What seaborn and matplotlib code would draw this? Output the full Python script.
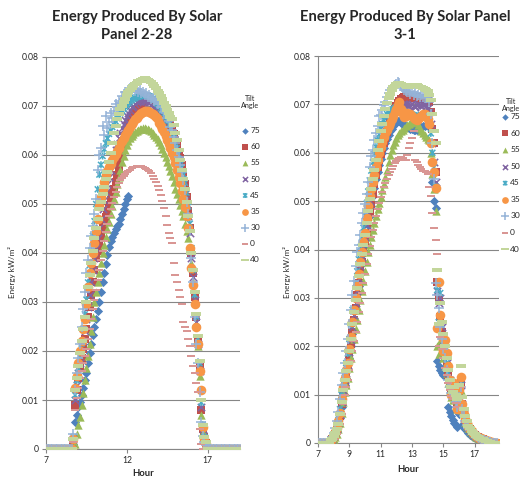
import numpy as np
import pandas as pd
import matplotlib
matplotlib.use("Agg")
import matplotlib.pyplot as plt
from matplotlib.path import Path
import seaborn as sns

# --- data (energy in 1e-3 kW/m^2, sampled every 0.1 h) ---
tilts = ['75', '60', '55', '50', '45', '35', '30', '0', '40']

# panel 2-28: samples 8.6 .. 17.0 h, zeros before and after
left_day_hours = np.round(np.arange(8.6, 17.05, 0.1), 1)
left_night_hours = np.round(np.r_[np.arange(7.0, 8.55, 0.1), np.arange(17.1, 19.05, 0.1)], 1)

left_75 = [0, 1, 5.5, 7, 8.5, 9.5, 11, 12.5, 14, 15.5,
           17.5, 19.5, 21.5, 23.2, 25, 26.5, 28.2, 30, 32, 34,
           36, 37.8, 39.5, 41.2, 42.5, 43.3, 44, 44.8, 45.5, 46,
           47, 48, 49, 50, 51, 51.6]
left_60 = [0, 1.5, 9, 12, 14.5, 16.5, 18.5, 20.5, 22.5, 24.5,
           27, 29, 31.5, 34, 36.5, 39, 40.5, 42, 43.5, 45,
           46.2, 47.4, 48.6, 49.8, 51, 52, 53, 54.5, 56, 57.5,
           59, 60.5, 62, 63.5, 65, 66, 66.8, 67.5, 68.2, 68.8,
           69.3, 69.8, 70.2, 70.6, 70.9, 71.1, 71.3, 71.4, 71.4, 71.3,
           71.2, 71, 70.8, 70.5, 70.2, 69.8, 69.4, 69, 68.5, 67.9,
           67.2, 66.4, 65.5, 64.3, 63, 61.8, 60.6, 59.3, 58, 56.5,
           54, 51.5, 48.5, 45, 40, 36, 31, 27, 22, 17,
           8, 4, 2.5, 1.2, 0]
left_55 = [0, 0, 1, 3, 5, 6.5, 9, 11.5, 14, 16.5,
           19, 21.5, 24, 27, 30, 32, 34, 36, 38, 40,
           41.6, 43.2, 44.8, 46.4, 48, 49.5, 51, 52.5, 54, 55.5,
           57, 58.5, 59.8, 61, 62, 62.8, 63.4, 63.9, 64.3, 64.6,
           64.9, 65.1, 65.3, 65.4, 65.5, 65.5, 65.4, 65.3, 65.1, 64.8,
           64.5, 64.1, 63.7, 63.2, 62.6, 62, 61.3, 60.5, 59.5, 58.5,
           57.8, 56.8, 55.8, 54.5, 53, 52, 51, 49.8, 48.6, 47.5,
           46, 44.5, 43, 41, 38, 34, 30, 25.5, 21, 15,
           7, 3.5, 2, 1, 0]
left_50 = [0, 2, 10, 13, 15.5, 17.5, 19.5, 22, 24, 26.5,
           29, 31.5, 34, 36.5, 39, 41, 43, 45, 47, 49,
           50.8, 52.5, 54, 55.5, 57, 58.4, 59.8, 61, 62.2, 63.4,
           64.5, 65.5, 66.4, 67.2, 68, 68.6, 69.2, 69.7, 70.1, 70.5,
           70.8, 71, 71.1, 71.2, 71.2, 71.1, 71, 70.8, 70.6, 70.3,
           70, 69.6, 69.2, 68.7, 68.2, 67.6, 67, 66.3, 65.6, 64.8,
           64, 63.1, 62.2, 61.2, 60.2, 59.1, 57.9, 56.6, 55.2, 53.7,
           52, 50, 47.5, 44, 39, 35, 30.5, 26, 21.5, 16,
           8.5, 4, 2.2, 1, 0]
left_45 = [0, 2.5, 11, 14, 16.5, 19, 21.5, 24.5, 27.5, 30.5,
           34, 37.5, 40.5, 43.5, 46.5, 50, 53, 56, 58, 59.8,
           61.2, 62.4, 63.4, 64.3, 65, 65.7, 66.3, 66.9, 67.5, 68,
           68.5, 69, 69.4, 69.8, 70.2, 70.6, 70.9, 71.2, 71.4, 71.6,
           71.8, 71.9, 72, 72.1, 72.2, 72.2, 72.2, 72.1, 72, 71.8,
           71.5, 71.2, 70.8, 70.4, 70, 69.5, 69, 68.4, 67.7, 67,
           66.2, 65.3, 64.4, 63.5, 62.5, 61.4, 60.2, 58.9, 57.5, 56,
           54.3, 52.3, 49.5, 46, 41, 36.5, 31.5, 27, 22.5, 17.5,
           9.5, 5, 2.5, 1.2, 0]
left_35 = [0, 2, 12.5, 15, 17.5, 20, 22, 24.5, 26.5, 29.5,
           33, 36, 38, 40, 42, 44.5, 47, 49.5, 51.5, 53,
           54.5, 56, 56.8, 57.5, 58.2, 59, 59.6, 60.2, 60.8, 61.5,
           62.2, 62.8, 63.4, 64, 64.6, 65.2, 65.8, 66.3, 66.8, 67.3,
           67.6, 68, 68.3, 68.6, 68.8, 69, 69, 68.9, 68.8, 68.6,
           68.4, 68.1, 67.8, 67.3, 66.6, 66, 65.3, 64.6, 63.9, 63.1,
           62.3, 61.4, 60.5, 59.5, 58.3, 57, 55.6, 54.2, 52.7, 51,
           49.4, 47.5, 45, 41, 37, 33.5, 29.5, 25, 21.5, 16,
           12, 4.5, 2, 1, 0]
left_30 = [0, 3, 12, 15.5, 18.5, 21.5, 25, 28.5, 32, 36,
           38.5, 41, 43.5, 45.5, 48, 51, 57, 60, 61.5, 66,
           64, 68, 65.5, 66.8, 68.5, 67.5, 69, 70.5, 69.8, 71,
           70.6, 72, 71.4, 72.8, 72.4, 73.3, 73.7, 73.2, 73.6, 73.1,
           73.4, 72.8, 73.2, 72.6, 72.9, 72.3, 72.6, 71.9, 72.2, 71.5,
           71.6, 71, 71.2, 70.4, 70.6, 69.7, 69.8, 68.8, 68.6, 67.5,
           67, 65.8, 65, 63.6, 62.4, 61, 59.6, 58, 56.5, 54.8,
           52.8, 50.5, 48, 44.5, 39, 34, 27, 21.5, 17.5, 11.6,
           5.5, 2.6, 1.5, 0.8, 0]
left_0 = [0, 1.5, 8, 10.5, 12.5, 14.5, 16, 17.5, 19, 20.5,
          22.5, 24.5, 26.5, 28.5, 30.5, 32.5, 34.5, 36.5, 38.5, 40.5,
          42.4, 44.2, 45.9, 47.5, 49, 50.3, 51.5, 52.5, 53.4, 54.2,
          54.8, 55.3, 55.8, 56.2, 56.5, 56.8, 57, 57.3, 57.5, 57.6,
          57.7, 57.7, 57.7, 57.7, 57.6, 57.4, 57.2, 57, 56.7, 56.3,
          55.7, 55.1, 54.5, 53.7, 52.8, 51.8, 50.6, 49.2, 47.6, 45.8,
          44, 43, 42, 38, 35.5, 34, 32.5, 31, 29.5, 26,
          25, 24, 22.5, 21, 19, 17, 15.5, 13.5, 11.7, 4,
          1, 0, 0, 0, 0]
left_40 = [0, 2, 12, 14.5, 17, 19.5, 22, 24.5, 27, 30,
           33, 35.5, 38, 40.5, 43, 45, 47, 49, 50.5, 52,
           53.5, 55, 56.5, 58.5, 60.5, 62.5, 64.5, 66, 67.3, 68.4,
           69.3, 70, 70.8, 71.5, 72.2, 72.8, 73.3, 73.7, 74.1, 74.4,
           74.7, 75, 75.2, 75.4, 75.6, 75.7, 75.6, 75.4, 75.2, 74.9,
           74.5, 74.1, 73.6, 73.1, 72.6, 72, 71.4, 70.7, 70, 69.2,
           68.5, 67.8, 67.3, 66.2, 64.5, 63, 61, 59, 57, 55,
           53, 50.5, 47.5, 44.5, 40, 36.5, 32, 27.5, 23, 18,
           10, 5, 2.5, 1.5, 0]

# panel 3-1: samples 7.8 .. 18.4 h, zeros before
right_day_hours = np.round(np.arange(7.8, 18.45, 0.1), 1)
right_night_hours = np.round(np.arange(7.0, 7.75, 0.1), 1)

right_75 = [0.5, 0.8, 1.2, 1.7, 2.4, 3.6, 5.2, 7.5, 10, 12,
            13.5, 15, 17.5, 20, 22.5, 25, 27.5, 30, 32.5, 35,
            37, 39, 41, 43, 45, 47, 49, 51, 52.8, 54.5,
            56, 57.4, 58.7, 59.9, 61, 62, 62.9, 63.7, 64.4, 65,
            65.5, 66, 66.4, 66.6, 66.5, 66.2, 65.9, 65.7, 65.5, 65.3,
            65.1, 64.9, 65, 64.8, 64.6, 64.8, 65, 65.2, 65.4, 65.5,
            65.6, 65.7, 65.8, 65.5, 65, 54, 50, 48.6, 17, 16,
            15, 14.5, 14, 15.5, 13.5, 7.5, 6.5, 5.5, 4.8, 4.2,
            3.8, 3.4, 6, 7.5, 3.8, 3.2, 2.8, 2.4, 2, 1.7,
            1.5, 1.3, 1.1, 1, 0.9, 0.8, 0.7, 0.6, 0.5, 0.4,
            0.3, 0.2, 0.2, 0.1, 0, 0, 0]
right_60 = [0.6, 0.9, 1.3, 1.9, 2.7, 4, 5.5, 8, 10.5, 12.5,
            14, 15.5, 18, 20.5, 23, 25.5, 28, 30.5, 33, 35.5,
            37.5, 39.5, 41.5, 43.5, 45.5, 47.5, 49.5, 51.5, 53.5, 55.5,
            57, 58.5, 59.8, 61, 62, 63, 64.2, 65.5, 66.6, 67.5,
            68.3, 69, 69.6, 70.2, 70.7, 71.1, 71.4, 71.6, 71.5, 71.7,
            71.6, 71.4, 71.6, 71.5, 71.3, 71.5, 71.4, 71.2, 71.4, 71.3,
            71.2, 71.3, 71, 70.5, 68.5, 65, 62, 56, 33.3, 30,
            26, 23, 20.5, 18, 16, 14, 12.5, 11, 10, 9.5,
            9, 8, 10.5, 12.5, 8, 6, 5, 4, 3.4, 2.8,
            2.3, 2, 1.7, 1.5, 1.3, 1.1, 0.9, 0.8, 0.6, 0.5,
            0.4, 0.3, 0.2, 0.1, 0.1, 0, 0]
right_55 = [0.4, 0.6, 0.9, 1.3, 1.9, 2.9, 4.2, 6.2, 8.5, 10.5,
            12, 13.5, 15.5, 17.5, 19.5, 21.5, 23.5, 25.5, 27.5, 29.5,
            31.5, 33.5, 35.5, 37.5, 39.5, 41, 42.5, 44, 45.5, 47,
            48.3, 49.6, 50.9, 52.2, 53.5, 55, 56.5, 58, 59.5, 60.6,
            61.5, 62.3, 63, 63.6, 64, 64.4, 64.8, 65.2, 65.5, 65.8,
            66, 66.2, 66.4, 66.6, 66.7, 66.4, 65.8, 65.1, 64.5, 64,
            63.6, 63.2, 62.9, 62.6, 60, 55.7, 52.5, 48, 20, 18.5,
            21, 19, 17.5, 16, 14.5, 12.5, 11, 9.5, 8.8, 9.3,
            7.8, 7, 8.5, 11, 6.8, 5.2, 4.3, 3.6, 3, 2.5,
            2.1, 1.8, 1.5, 1.3, 1.1, 1, 0.8, 0.7, 0.5, 0.4,
            0.4, 0.3, 0.2, 0.1, 0.1, 0, 0]
right_50 = [0.6, 0.9, 1.4, 2, 2.9, 4.2, 6, 8.5, 11, 13,
            14.5, 16.2, 18.8, 21.3, 24, 26.5, 29, 31.5, 34, 36.5,
            38.5, 40.5, 42.5, 45, 47.5, 50, 52, 54, 55.8, 57.5,
            59, 60.4, 61.6, 62.7, 63.7, 64.6, 65.5, 66.3, 67, 67.6,
            68.1, 68.6, 69, 69.4, 69.7, 69.9, 70, 70.1, 70, 69.8,
            69.6, 69.8, 70, 69.7, 69.5, 69.8, 70, 69.8, 69.6, 69.9,
            70, 69.7, 69.2, 68.5, 66, 62, 58, 54, 31.5, 29,
            30, 24, 21, 18.5, 16.5, 14.5, 13, 11.5, 10.2, 9.8,
            9, 8.3, 10, 12, 8, 6, 4.8, 4, 3.3, 2.7,
            2.3, 1.9, 1.6, 1.4, 1.2, 1, 0.9, 0.7, 0.6, 0.5,
            0.4, 0.3, 0.2, 0.1, 0.1, 0, 0]
right_45 = [0.7, 1, 1.5, 2.2, 3.2, 4.8, 7, 10, 12.5, 14.5,
            16.5, 18.5, 21.5, 24.5, 27.5, 30, 33, 35.5, 38, 40.5,
            42.5, 44.5, 47, 49.5, 52, 54.3, 56.3, 58, 59.7, 61.2,
            62.6, 63.8, 65, 66, 66.8, 67.5, 68, 68.4, 68.7, 68.9,
            69, 69.2, 69.4, 69.5, 69.3, 69, 68.7, 68.5, 68.3, 68.2,
            68, 67.8, 67.9, 67.6, 67.4, 67.6, 67.8, 67.5, 67.3, 67.6,
            67.8, 67.4, 67, 66.5, 64, 60, 57, 53, 31.6, 25,
            31, 24.5, 21.5, 19, 16.5, 14.5, 12.8, 11.2, 10, 10.8,
            9, 8, 10.5, 13, 8, 6, 4.8, 3.9, 3.2, 2.6,
            2.2, 1.8, 1.6, 1.4, 1.2, 1, 0.8, 0.7, 0.6, 0.5,
            0.4, 0.3, 0.2, 0.1, 0.1, 0, 0]
right_35 = [0.7, 1, 1.5, 2.2, 3, 4.5, 6.2, 9, 11.5, 13.5,
            15, 16.6, 19.5, 22, 25, 27.5, 30, 32.5, 35, 37.5,
            39.5, 41.5, 43.5, 46.5, 49, 51, 52.5, 54, 55.5, 57,
            58.6, 60, 61.2, 62.3, 63.2, 64, 64.8, 65.5, 66.2, 67,
            67.7, 68.4, 69, 69.8, 70.5, 69, 68, 67.3, 67.5, 68.2,
            68, 68, 67.6, 67.2, 67, 66.8, 67, 67.3, 67.6, 68,
            68, 67.6, 67, 66, 62, 58, 56, 52.7, 23.7, 33.3,
            26.5, 22, 19, 21.3, 18.6, 16, 13, 10, 11.6, 12.5,
            9, 7, 11, 13.7, 8, 6, 5, 4.2, 3.5, 2.8,
            2.4, 2, 1.7, 1.5, 1.3, 1.1, 1, 0.8, 0.7, 0.6,
            0.5, 0.4, 0.3, 0.2, 0.1, 0, 0]
right_30 = [0.8, 1.2, 2, 3, 4.5, 6.5, 9, 12, 14.5, 16.5,
            19, 21.5, 24.5, 27.5, 30.5, 33.5, 36.5, 39.5, 41, 43,
            45.5, 47.5, 49.5, 51.5, 54, 57, 59.3, 60.5, 62.6, 64,
            65.5, 67.5, 67.8, 68.8, 69.8, 70.5, 71.5, 72.4, 73, 73.3,
            73.6, 74, 74.3, 74.7, 74.4, 73.8, 73.4, 73, 72.7, 72.5,
            72.6, 72.2, 72.5, 72, 72.3, 71.8, 72, 71.6, 71.9, 71.5,
            71.8, 71.4, 71.6, 70.5, 68, 62, 54.5, 33, 30.5, 28,
            24, 21.5, 19.5, 17.5, 15, 13, 11.5, 10.4, 9, 10,
            8.5, 7.5, 9.5, 11.5, 7, 5.5, 4.5, 3.8, 3.2, 2.6,
            2.2, 1.9, 1.6, 1.4, 1.2, 1, 0.9, 0.7, 0.6, 0.5,
            0.4, 0.3, 0.2, 0.1, 0.1, 0, 0]
right_0 = [0.4, 0.6, 0.9, 1.3, 1.9, 2.8, 4, 6, 8, 10,
           11.5, 13, 15, 17, 19, 21, 23, 25, 27, 29,
           31, 33, 35, 37, 39, 40.8, 42.5, 44, 45.5, 47,
           48.3, 49.6, 50.8, 51.9, 52.9, 53.8, 54.6, 55.3, 56, 56.6,
           57.2, 57.8, 58.3, 58.7, 59, 59.2, 59, 58.6, 58.4, 59.5,
           61, 62, 63, 64.4, 58.6, 58, 57.5, 57, 56.6, 56.3,
           56.2, 56, 55.6, 53, 51, 47.5, 44.5, 42, 39, 20,
           22, 19.5, 17.5, 15.5, 14, 12.5, 11, 9.8, 9, 9.5,
           8.2, 7.4, 9, 11.5, 7, 5.4, 4.4, 3.7, 3.1, 2.6,
           2.1, 1.8, 1.5, 1.3, 1.1, 1, 0.8, 0.7, 0.5, 0.4,
           0.4, 0.3, 0.2, 0.1, 0.1, 0, 0]
right_40 = [0.6, 0.9, 1.4, 2, 2.8, 4, 6, 8.5, 11, 13,
            14.8, 16.5, 19, 21.5, 24.5, 27, 29.5, 32, 34.5, 37,
            39, 41, 43, 45.5, 48, 50.5, 52.5, 54.5, 56.5, 58.5,
            60.5, 62.5, 64.5, 66, 67.5, 69, 70.3, 71.3, 72.2, 73,
            73.5, 73.9, 74.2, 74.4, 74.5, 74.3, 74.1, 74, 73.8, 73.6,
            73.5, 73.7, 73.9, 74, 74.1, 74, 73.8, 73.6, 73.5, 73.3,
            73.2, 73, 72.7, 72, 71, 68, 64.5, 62, 35.8, 24.5,
            29, 25, 22.5, 20, 17.5, 15, 13, 11.5, 10.5, 11.5,
            10, 9, 12, 16, 9.5, 7, 5.5, 4.5, 3.6, 3,
            2.5, 2.1, 1.8, 1.5, 1.3, 1.1, 0.9, 0.8, 0.6, 0.5,
            0.4, 0.3, 0.2, 0.1, 0.1, 0, 0]

left_series = [left_75, left_60, left_55, left_50, left_45, left_35, left_30, left_0, left_40]
right_series = [right_75, right_60, right_55, right_50, right_45, right_35, right_30, right_0, right_40]

# --- styles (Excel 2007 default series look) ---
star = Path([(-1, -1), (1, 1), (-1, 1), (1, -1), (0, -1.2), (0, 1.2)],
            [Path.MOVETO, Path.LINETO, Path.MOVETO, Path.LINETO, Path.MOVETO, Path.LINETO])
dash = [(-1, -0.32), (1, -0.32), (1, 0.32), (-1, 0.32), (-1, -0.32)]
colors = ['#4F81BD', '#C0504D', '#9BBB59', '#8064A2', '#4BACC6', '#F79646', '#95B3D7', '#D99694', '#C3D69B']
markers = ['D', 's', '^', 'x', star, 'o', '+', dash, dash]
sizes = [22, 28, 36, 28, 26, 48, 54, 30, 62]
lws = [0, 0, 0, 1.1, 1.1, 0, 1.1, 0, 0]


def long_table(day_hours, night_hours, series):
    rows = []
    for tilt, vals in zip(tilts, series):
        for h, v in zip(day_hours[:len(vals)], vals):
            rows.append((h, v / 1000.0, tilt))
        for h in night_hours:
            rows.append((h, 0.0, tilt))
    return pd.DataFrame(rows, columns=['Hour', 'Energy', 'Tilt'])


sns.set_style('white')
plt.rcParams['font.family'] = ['Lato', 'DejaVu Sans']

fig = plt.figure(figsize=(5.2, 4.79), dpi=100)
ax1 = fig.add_axes([46 / 520, 1 - 449 / 479, 194 / 520, 392 / 479])
ax2 = fig.add_axes([318 / 520, 1 - 443 / 479, 181 / 520, 387 / 479])

grey = '#868686'
panels = [
    (ax1, long_table(left_day_hours, left_night_hours, left_series), (7, 19), [7, 12, 17]),
    (ax2, long_table(right_day_hours, right_night_hours, right_series), (7, 18.55), [7, 9, 11, 13, 15, 17]),
]

for ax, df, xlim, xticks in panels:
    for i, tilt in enumerate(tilts):
        sub = df[df['Tilt'] == tilt]
        kw = dict(linewidth=lws[i])
        if markers[i] is star:
            kw = dict(linewidth=1.1, edgecolor=colors[i], facecolor='none')
        sns.scatterplot(data=sub, x='Hour', y='Energy', ax=ax, marker=markers[i],
                        color=colors[i], s=sizes[i], label=tilt, zorder=3 + i, **kw)
    ax.set_xlim(*xlim)
    ax.set_ylim(0, 0.08)
    ax.set_xticks(xticks)
    ax.set_yticks(np.arange(0, 0.081, 0.01))
    ax.set_yticklabels([f'{v:g}' for v in np.round(np.arange(0, 0.081, 0.01), 2)])
    ax.yaxis.grid(True, color=grey, linewidth=0.8)
    ax.xaxis.grid(False)
    ax.set_axisbelow(True)
    for side in ['top', 'right']:
        ax.spines[side].set_visible(False)
    for side in ['left', 'bottom']:
        ax.spines[side].set_color(grey)
        ax.spines[side].set_linewidth(0.8)
    ax.tick_params(axis='both', length=3, width=0.8, color=grey, labelsize=6.2,
                   direction='out', pad=2, left=True, bottom=True)
    ax.set_xlabel('')
    ax.set_ylabel('')
    ax.get_legend().remove()

# legends (title drawn separately, entries anchored below it)
for ax, anchor, gap in [(ax1, (241 / 520, 1 - 127 / 479), 1.1), (ax2, (501 / 520, 1 - 113 / 479), 1.15)]:
    ax.legend(loc='upper left', bbox_to_anchor=anchor,
              bbox_transform=fig.transFigure, frameon=False, fontsize=6,
              handletextpad=0.1, handlelength=1.0,
              labelspacing=gap, borderpad=0, borderaxespad=0, markerscale=0.7)
fig.text(250 / 520, 1 - 102 / 479, 'Tilt\nAngle', ha='center', va='center', fontsize=5.2, linespacing=1.1)
fig.text(511 / 520, 1 - 105 / 479, 'Tilt\nAngle', ha='center', va='center', fontsize=5.2, linespacing=1.1)

# titles and axis labels
fig.text(137 / 520, 1 - 26 / 479, 'Energy Produced By Solar\nPanel 2-28', ha='center', va='center',
         fontsize=10.6, fontweight='bold', linespacing=1.3)
fig.text(405 / 520, 1 - 26 / 479, 'Energy Produced By Solar Panel\n3-1', ha='center', va='center',
         fontsize=10.6, fontweight='bold', linespacing=1.3)
fig.text(12 / 520, 1 - 272 / 479, 'Energy kW/m\u00b2', rotation=90, ha='center', va='center', fontsize=5.8)
fig.text(287 / 520, 1 - 272 / 479, 'Energy kW/m\u00b2', rotation=90, ha='center', va='center', fontsize=5.8)
fig.text(143 / 520, 1 - 474 / 479, 'Hour', ha='center', va='center', fontsize=6.8, fontweight='bold')
fig.text(408 / 520, 1 - 469 / 479, 'Hour', ha='center', va='center', fontsize=6.8, fontweight='bold')

fig.savefig('out.png', dpi=100, facecolor='white')
